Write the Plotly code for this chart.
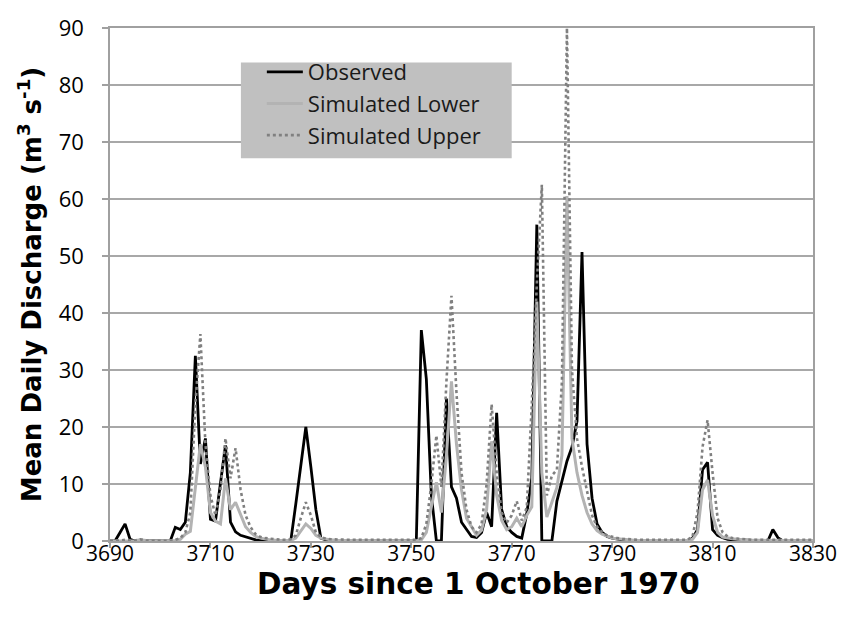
import plotly.graph_objects as go

days = list(range(3690, 3831))

observed = [
    0, 0, 1.5, 3.0, 0.3, 0, 0, 0, 0, 0,
    0, 0, 0, 2.4, 2.0, 3.3, 12, 32.5, 13.5, 18,
    3.8, 3.5, 10.5, 16.8, 3.3, 1.6, 1.0, 0.7, 0.4, 0.2,
    0.1, 0, 0, 0, 0, 0, 0, 6.5, 13.3, 20,
    13, 5.5, 0.5, 0.2, 0.1, 0, 0, 0, 0, 0,
    0, 0, 0, 0, 0, 0, 0, 0, 0, 0,
    0, 0, 37, 28.4, 8, 0, 0, 25, 9.5, 7.5,
    3.3, 2.0, 0.8, 0.6, 1.5, 5, 2.5, 22.5, 5.5, 2.5,
    1.5, 0.8, 0.5, 4.8, 11, 55.5, 0, 0, 0, 7,
    10.5, 14, 16.5, 21, 50.7, 17, 7.5, 3, 1.5, 0.8,
    0.5, 0.3, 0.2, 0.1, 0, 0, 0, 0, 0, 0,
    0, 0, 0, 0, 0, 0, 0.5, 2, 12.5, 13.8,
    2, 1, 0.6, 0.3, 0.2, 0.3, 0.2, 0.1, 0, 0,
    0, 0, 2.0, 0.6, 0, 0, 0, 0, 0, 0,
    0,
]

sim_lower = [
    0, 0, 0, 0.1, 0.1, 0.05, 0.2, 0.05, 0, 0,
    0, 0, 0, 0.1, 0.3, 1.2, 1.7, 9, 17, 13,
    5, 3.5, 3.0, 11, 5.5, 6.8, 4.5, 2.5, 1.5, 0.8,
    0.5, 0.3, 0.2, 0.15, 0.1, 0.1, 0.1, 0.5, 1.8, 3.0,
    2.2, 1.0, 0.5, 0.3, 0.2, 0.15, 0.1, 0.1, 0.1, 0.1,
    0.1, 0.1, 0.1, 0.1, 0.1, 0.05, 0.05, 0.05, 0.05, 0.05,
    0.05, 0.05, 0.2, 1.5, 6, 10.3, 5, 15, 28, 17,
    9, 4, 2.5, 1.0, 1.9, 5.5, 17.5, 8, 3.6, 2,
    2.5, 4, 2.5, 4.5, 6, 42, 12, 4.2, 6.8, 9.4,
    15, 60.5, 18, 12, 8, 5, 3, 1.8, 1.2, 0.8,
    0.5, 0.4, 0.3, 0.2, 0.15, 0.1, 0.1, 0.1, 0.1, 0.1,
    0.1, 0.1, 0.1, 0.1, 0.1, 0.1, 0.3, 1.5, 9, 10.7,
    4.5, 1.5, 0.7, 0.5, 0.4, 0.3, 0.3, 0.2, 0.15, 0.1,
    0.1, 0.1, 0.1, 0.1, 0.1, 0.1, 0.1, 0.1, 0.1, 0.1,
    0.1,
]

sim_upper = [
    0, 0, 0.1, 0.2, 0.2, 0.1, 0.3, 0.1, 0.05, 0.05,
    0.05, 0.05, 0.05, 0.2, 0.5, 1.5, 5, 24, 36.3, 17,
    8, 4.5, 9, 18, 11, 16.3, 9, 4.5, 2.4, 1.2,
    0.7, 0.5, 0.35, 0.3, 0.25, 0.2, 0.3, 1.0, 4.0, 6.8,
    4.5, 1.5, 0.7, 0.4, 0.3, 0.25, 0.2, 0.2, 0.2, 0.2,
    0.2, 0.2, 0.2, 0.2, 0.2, 0.2, 0.2, 0.2, 0.2, 0.2,
    0.2, 0.2, 0.5, 3, 10, 18.5, 9.5, 28, 43, 26,
    12, 5.5, 2.5, 1.5, 3, 10, 24, 12, 5, 3.2,
    4.5, 7, 3.6, 5.9, 24, 45, 62.5, 8, 11.5, 12.5,
    28, 90, 30, 18, 13, 8.5, 4.5, 2.5, 1.5, 1.0,
    0.7, 0.5, 0.4, 0.3, 0.2, 0.2, 0.2, 0.2, 0.2, 0.2,
    0.2, 0.2, 0.2, 0.2, 0.2, 0.2, 0.8, 5, 16.5, 21.2,
    12, 4, 1.5, 0.8, 0.5, 0.4, 0.35, 0.3, 0.2, 0.2,
    0.2, 0.2, 0.2, 0.2, 0.2, 0.2, 0.2, 0.2, 0.2, 0.2,
    0.2,
]

series_names = ["Observed", "Simulated Lower", "Simulated Upper"]
x_ticks = [3690, 3710, 3730, 3750, 3770, 3790, 3810, 3830]
y_ticks = [0, 10, 20, 30, 40, 50, 60, 70, 80, 90]
x_title = "<b>Days since 1 October 1970</b>"
y_title = "<b>Mean Daily Discharge (m<sup>3</sup> s<sup>-1</sup>)</b>"

FONT = "Open Sans"
TITLE_FONT = "DejaVu Sans"

fig = go.Figure()
fig.add_trace(go.Scatter(x=days, y=observed, mode="lines", name=series_names[0],
                         legendgroup="a",
                         line=dict(color="#000000", width=2.8)))
fig.add_trace(go.Scatter(x=days, y=sim_lower, mode="lines", name=series_names[1],
                         legendgroup="b",
                         line=dict(color="#b3b3b3", width=3)))
fig.add_trace(go.Scatter(x=days, y=sim_upper, mode="lines", name=series_names[2],
                         legendgroup="c",
                         line=dict(color="#808080", width=2.6, dash="dot")))

# grey legend panel
fig.add_shape(type="rect", xref="paper", yref="paper",
              x0=0.1862, x1=0.5714, y0=0.7462, y1=0.9327,
              fillcolor="#c0c0c0", line=dict(width=0), layer="above")

# x-axis title (offset to the right of the plot centre, as in the original)
fig.add_annotation(text=x_title, xref="paper", yref="paper",
                   x=0.5245, y=-0.0846, xanchor="center", yanchor="middle",
                   showarrow=False,
                   font=dict(family=TITLE_FONT, size=29.5, color="#000000"))

fig.update_layout(
    width=849, height=629,
    margin=dict(l=110, r=35, t=21, b=88),
    paper_bgcolor="white", plot_bgcolor="white",
    font=dict(family=FONT, color="#000000", size=21),
    showlegend=True,
    legend=dict(
        x=0.216, y=0.955, xanchor="left", yanchor="top",
        bgcolor="rgba(0,0,0,0)", borderwidth=0,
        font=dict(family=FONT, size=22, color="#1a1a1a"),
        tracegroupgap=0, itemwidth=36,
    ),
    xaxis=dict(
        range=[3690, 3830], tickvals=x_ticks, showgrid=False,
        showline=True, linecolor="#a0a0a0", linewidth=1.5, mirror=True,
        ticks="outside", ticklen=5, tickcolor="#a0a0a0", tickwidth=1.5,
        ticklabelstandoff=-12,
        zeroline=False,
        tickfont=dict(family=FONT, size=21, color="#000000"),
    ),
    yaxis=dict(
        range=[0, 90], tickvals=y_ticks, showgrid=True,
        gridcolor="#a8a8a8", gridwidth=1.5,
        showline=True, linecolor="#a0a0a0", linewidth=1.5, mirror=True,
        ticks="outside", ticklen=6, tickcolor="#a0a0a0", tickwidth=1.5,
        ticklabelstandoff=14,
        zeroline=False,
        tickfont=dict(family=FONT, size=22, color="#000000"),
        title=dict(text=y_title,
                   font=dict(family=TITLE_FONT, size=26, color="#000000"), standoff=10),
    ),
)

fig.write_html("out.html")
